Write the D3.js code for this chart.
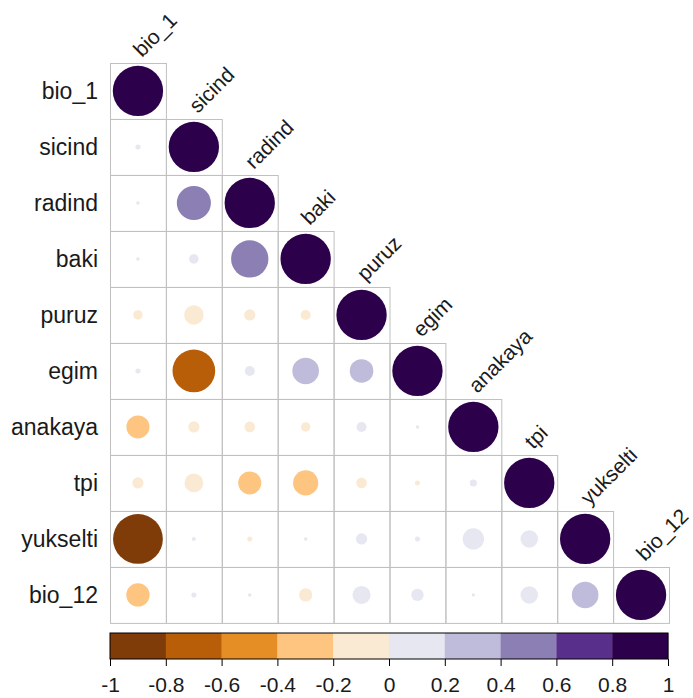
<!DOCTYPE html>
<html>
<head>
<meta charset="utf-8">
<script src="https://cdn.jsdelivr.net/npm/d3@7"></script>
<style>
  html, body { margin: 0; padding: 0; background: #fff; }
  svg { display: block; font-family: "Liberation Sans", Arial, sans-serif; }
</style>
</head>
<body>
<svg id="chart" width="693" height="698"></svg>
<script>
// ---- data ----
const variables = ["bio_1", "sicind", "radind", "baki", "puruz", "egim", "anakaya", "tpi", "yukselti", "bio_12"];
// lower-triangle correlations, row by row (row i has i+1 values, last is the diagonal)
const corrRows = [
  [1],
  [0.01, 1],
  [0.005, 0.46, 1],
  [0.005, 0.035, 0.55, 1],
  [-0.035, -0.15, -0.05, -0.04, 1],
  [0.01, -0.72, 0.04, 0.28, 0.22, 1],
  [-0.21, -0.05, -0.045, -0.035, 0.04, 0.005, 1],
  [-0.05, -0.14, -0.21, -0.25, -0.045, -0.01, 0.02, 1],
  [-0.98, 0.006, -0.01, 0.005, 0.05, 0.01, 0.18, 0.12, 1],
  [-0.215, 0.01, 0.005, -0.07, 0.13, 0.06, 0.004, 0.12, 0.28, 1]
];
const colorbarTicks = [-1, -0.8, -0.6, -0.4, -0.2, 0, 0.2, 0.4, 0.6, 0.8, 1];
const puorAnchors = ["#7F3B08", "#B35806", "#E08214", "#FDB863", "#FEE0B6", "#F7F7F7",
                     "#D8DAEB", "#B2ABD2", "#8073AC", "#542788", "#2D004B"];
const nBins = 10;

// ---- layout ----
const svg = d3.select("#chart");
const gridLeft = 110, gridRight = 669, gridTop = 63, gridBottom = 623;
const x = d3.scaleBand().domain(variables).range([gridLeft, gridRight]).padding(0);
const y = d3.scaleBand().domain(variables).range([gridTop, gridBottom]).padding(0);
const cell = x.bandwidth();

const interp = d3.piecewise(d3.interpolateRgb, puorAnchors);
const palette = d3.range(nBins).map(k => interp(k / (nBins - 1)));
const binScale = d3.scaleQuantize().domain([-1, 1]).range(palette);
const colorOf = v => v >= 1 ? palette[nBins - 1] : binScale(v);
const rScale = d3.scaleSqrt().domain([0, 1]).range([0, cell * 0.9 / 2]);

const cells = [];
corrRows.forEach((row, i) => row.forEach((v, j) => cells.push({ row: variables[i], col: variables[j], v })));

// grid cells
const gridG = svg.append("g");
gridG.selectAll("rect").data(cells).join("rect")
  .attr("x", d => x(d.col) + 0.5)
  .attr("y", d => y(d.row) + 0.5)
  .attr("width", cell)
  .attr("height", cell)
  .attr("fill", "none")
  .attr("stroke", "#c0c0c0")
  .attr("stroke-width", 1);

// circles
svg.append("g").selectAll("circle").data(cells).join("circle")
  .attr("cx", d => x(d.col) + cell / 2)
  .attr("cy", d => y(d.row) + cell / 2)
  .attr("r", d => rScale(Math.abs(d.v)))
  .attr("fill", d => colorOf(d.v));

// row labels
svg.append("g").selectAll("text").data(variables).join("text")
  .attr("x", gridLeft - 12)
  .attr("y", d => y(d) + cell / 2)
  .attr("dy", "0.36em")
  .attr("text-anchor", "end")
  .attr("font-size", 23)
  .attr("fill", "#1a1a1a")
  .text(d => d);

// column labels (diagonal, rotated)
svg.append("g").selectAll("text").data(variables).join("text")
  .attr("transform", d => `translate(${x(d) + cell / 2 + 4},${y(d) - 5}) rotate(-45)`)
  .attr("text-anchor", "start")
  .attr("font-size", 21)
  .attr("fill", "#1a1a1a")
  .text(d => d);

// colorbar
const cbTop = 633, cbBottom = 659;
const cx = d3.scaleLinear().domain([-1, 1]).range([gridLeft, 668]);
const binEdges = d3.range(nBins).map(k => [colorbarTicks[k], colorbarTicks[k + 1]]);
svg.append("g").selectAll("rect").data(binEdges).join("rect")
  .attr("x", d => cx(d[0]))
  .attr("y", cbTop)
  .attr("width", d => cx(d[1]) - cx(d[0]) + 0.3)
  .attr("height", cbBottom - cbTop)
  .attr("fill", (d, k) => palette[k]);
svg.append("rect")
  .attr("x", cx(-1)).attr("y", cbTop)
  .attr("width", cx(1) - cx(-1)).attr("height", cbBottom - cbTop)
  .attr("fill", "none").attr("stroke", "#000").attr("stroke-width", 1);

const axis = d3.axisBottom(cx).tickValues(colorbarTicks).tickSize(7).tickPadding(11)
  .tickFormat(d => String(d));
const axG = svg.append("g").attr("transform", `translate(0,${cbBottom})`).call(axis);
axG.select(".domain").remove();
axG.selectAll(".tick line").attr("stroke", "#000");
axG.selectAll(".tick text").attr("font-size", 21).attr("fill", "#1a1a1a")
  .attr("font-family", "'Liberation Sans', Arial, sans-serif");
</script>
</body>
</html>
